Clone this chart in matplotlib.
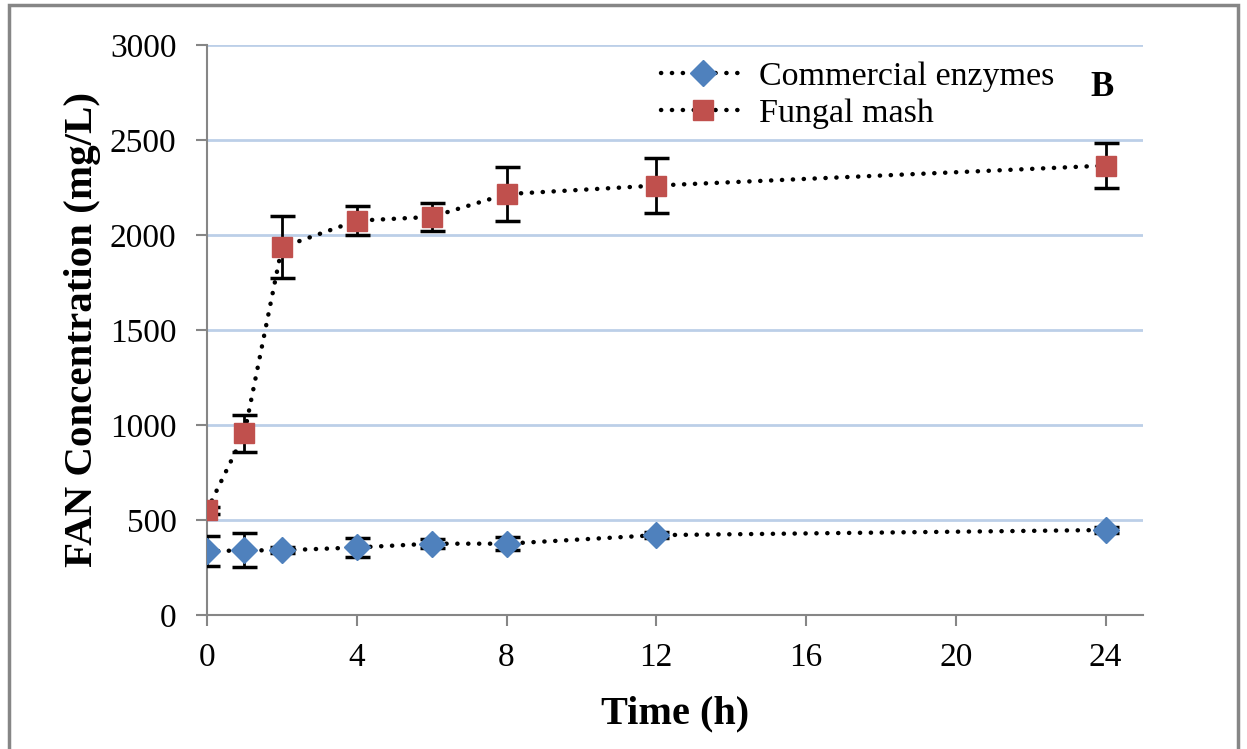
import matplotlib
matplotlib.use("Agg")
import matplotlib.pyplot as plt
from matplotlib.patches import Rectangle

# time points (h)
time_h = [0, 1, 2, 4, 6, 8, 12, 24]

# FAN concentration (mg/L)
commercial = [335, 340, 340, 355, 375, 375, 420, 447]
commercial_err = [80, 90, 15, 50, 25, 35, 15, 15]
fungal = [550, 955, 1935, 2075, 2095, 2215, 2260, 2365]
fungal_err = [20, 97, 163, 76, 72, 140, 145, 120]

plt.rcParams['font.family'] = ['Liberation Serif', 'DejaVu Serif']

fig = plt.figure(figsize=(12.47, 7.49), dpi=100)
ax = fig.add_axes([0.166, 0.179, 0.7506, 0.761])

# outer frame
fig.patches.append(Rectangle((0.007, -0.01), 0.986, 1.003, transform=fig.transFigure,
                             fill=False, edgecolor='#868686', linewidth=2.5))

ax.errorbar(time_h, commercial, yerr=commercial_err, fmt='none', ecolor='black',
            elinewidth=2, capsize=9, capthick=2.5, zorder=3)
ax.errorbar(time_h, fungal, yerr=fungal_err, fmt='none', ecolor='black',
            elinewidth=2, capsize=9, capthick=2.5, zorder=3)

dots = (0, (0.05, 2.4))
ax.plot(time_h, commercial, linestyle=dots, dash_capstyle='round', color='black',
        linewidth=3.2, marker='D', markersize=13.5, markerfacecolor='#4f81bd',
        markeredgecolor='#4f81bd', label='Commercial enzymes', zorder=4)
ax.plot(time_h, fungal, linestyle=dots, dash_capstyle='round', color='black',
        linewidth=3.2, marker='s', markersize=14.5, markerfacecolor='#c0504d',
        markeredgecolor='#c0504d', label='Fungal mash', zorder=4)

ax.set_xlim(0, 25)
ax.set_ylim(0, 3000)
ax.set_xticks([0, 4, 8, 12, 16, 20, 24])
ax.set_yticks(range(0, 3001, 500))
ax.yaxis.grid(True, color='#bccfe8', linewidth=2)
ax.set_axisbelow(True)

for s in ['top', 'right']:
    ax.spines[s].set_visible(False)
for s in ['left', 'bottom']:
    ax.spines[s].set_color('#868686')
    ax.spines[s].set_linewidth(1.5)
ax.tick_params(axis='both', colors='#868686', length=8, width=1.5, labelsize=24,
               labelcolor='black')
ax.tick_params(axis='y', pad=14)
ax.tick_params(axis='x', pad=12)

ax.set_xlabel('Time (h)', fontsize=29, fontweight='bold', labelpad=16)
ax.set_ylabel('FAN Concentration (mg/L)', fontsize=29.5, fontweight='bold', labelpad=6)

leg = ax.legend(loc='upper left', bbox_to_anchor=(0.47, 0.995), frameon=False,
                fontsize=24.5, handlelength=2.5, handletextpad=0.4, labelspacing=0.18,
                borderaxespad=0.0)

ax.text(0.956, 0.925, 'B', transform=ax.transAxes, fontsize=25, fontweight='bold',
        ha='center', va='center')

fig.savefig('out.png', dpi=100)
